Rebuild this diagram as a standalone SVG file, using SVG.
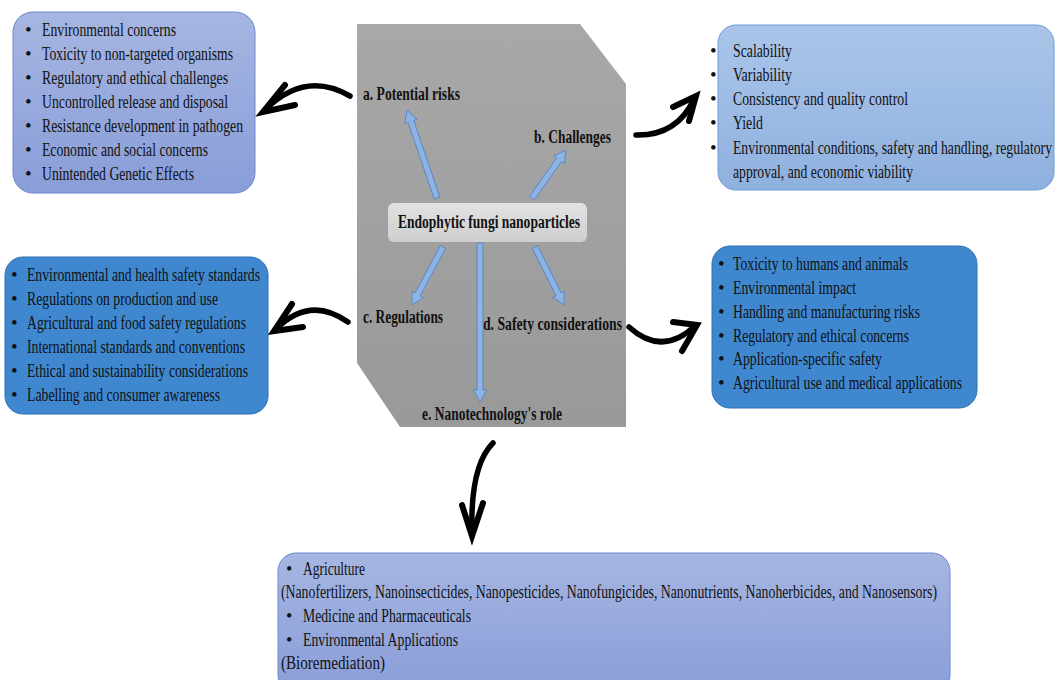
<svg xmlns="http://www.w3.org/2000/svg" width="1055" height="680" viewBox="0 0 1055 680">
<defs>
<linearGradient id="gGray" x1="0" y1="0" x2="0" y2="1"><stop offset="0" stop-color="#a8a8a8"/><stop offset="1" stop-color="#999999"/></linearGradient>
<linearGradient id="gLav" x1="0" y1="0" x2="0" y2="1"><stop offset="0" stop-color="#a6b6e2"/><stop offset="1" stop-color="#899dd8"/></linearGradient>
<linearGradient id="gSky" x1="0" y1="0" x2="0" y2="1"><stop offset="0" stop-color="#abc5e9"/><stop offset="1" stop-color="#8fb1df"/></linearGradient>
<linearGradient id="gCenter" x1="0" y1="0" x2="0" y2="1"><stop offset="0" stop-color="#e2e2e2"/><stop offset="1" stop-color="#cfcfcf"/></linearGradient>
<style>
.t{font-family:"Liberation Serif","Times New Roman",serif;font-size:19px;fill:#111}
.tb{font-family:"Liberation Serif","Times New Roman",serif;font-size:18px;font-weight:bold;fill:#111}
.ts{font-family:"Liberation Serif","Times New Roman",serif;font-size:18px;fill:#111}
.blk{fill:none;stroke:#000;stroke-width:5.5;stroke-linecap:round}
.head{fill:none;stroke:#000;stroke-width:6;stroke-linecap:round;stroke-linejoin:miter}
.ba{fill:#8db3e2;stroke:#5b87c5;stroke-width:1}
</style>
</defs>
<rect width="1055" height="680" fill="#ffffff"/>

<g id="panel">
<polygon points="357,24 580,24 626,84 626,427 400,427 357,363" fill="url(#gGray)"/>
</g>

<g id="center">
<rect x="388" y="203" width="199" height="39" rx="6" fill="url(#gCenter)"/>
<text class="tb" x="398" y="228" textLength="182" lengthAdjust="spacingAndGlyphs">Endophytic fungi nanoparticles</text>
</g>

<g id="label-a"><text class="tb" x="363" y="100" textLength="97" lengthAdjust="spacingAndGlyphs">a. Potential risks</text></g>
<g id="label-b"><text class="tb" x="534" y="143" textLength="77" lengthAdjust="spacingAndGlyphs">b. Challenges</text></g>
<g id="label-c"><text class="tb" x="363" y="323" textLength="80" lengthAdjust="spacingAndGlyphs">c. Regulations</text></g>
<g id="label-d"><text class="tb" x="483" y="330" textLength="139" lengthAdjust="spacingAndGlyphs">d. Safety considerations</text></g>
<g id="label-e"><text class="tb" x="422" y="420" textLength="140" lengthAdjust="spacingAndGlyphs">e. Nanotechnology's role</text></g>

<g id="box-risks">
<rect x="13" y="12" width="242" height="181" rx="20" fill="url(#gLav)" stroke="#6f89d0" stroke-width="1"/>
<text class="t" x="25" y="36">•</text><text class="t" x="42" y="36" textLength="134" lengthAdjust="spacingAndGlyphs">Environmental concerns</text>
<text class="t" x="25" y="60">•</text><text class="t" x="42" y="60" textLength="191" lengthAdjust="spacingAndGlyphs">Toxicity to non-targeted organisms</text>
<text class="t" x="25" y="84">•</text><text class="t" x="42" y="84" textLength="186" lengthAdjust="spacingAndGlyphs">Regulatory and ethical challenges</text>
<text class="t" x="25" y="108">•</text><text class="t" x="42" y="108" textLength="186" lengthAdjust="spacingAndGlyphs">Uncontrolled release and disposal</text>
<text class="t" x="25" y="132">•</text><text class="t" x="42" y="132" textLength="201" lengthAdjust="spacingAndGlyphs">Resistance development in pathogen</text>
<text class="t" x="25" y="156">•</text><text class="t" x="42" y="156" textLength="166" lengthAdjust="spacingAndGlyphs">Economic and social concerns</text>
<text class="t" x="25" y="180">•</text><text class="t" x="42" y="180" textLength="152" lengthAdjust="spacingAndGlyphs">Unintended Genetic Effects</text>
</g>

<g id="box-challenges">
<rect x="718" y="25" width="336" height="165" rx="18" fill="url(#gSky)" stroke="#6b9dd6" stroke-width="1"/>
<text class="t" x="710" y="57">•</text><text class="t" x="733" y="57" textLength="59" lengthAdjust="spacingAndGlyphs">Scalability</text>
<text class="t" x="710" y="81">•</text><text class="t" x="733" y="81" textLength="59" lengthAdjust="spacingAndGlyphs">Variability</text>
<text class="t" x="710" y="105">•</text><text class="t" x="733" y="105" textLength="175" lengthAdjust="spacingAndGlyphs">Consistency and quality control</text>
<text class="t" x="710" y="129">•</text><text class="t" x="733" y="129" textLength="30" lengthAdjust="spacingAndGlyphs">Yield</text>
<text class="t" x="710" y="154">•</text><text class="t" x="733" y="154" textLength="319" lengthAdjust="spacingAndGlyphs">Environmental conditions, safety and handling, regulatory</text>
<text class="t" x="733" y="178" textLength="180" lengthAdjust="spacingAndGlyphs">approval, and economic viability</text>
</g>

<g id="box-regulations">
<rect x="5" y="257" width="263" height="157" rx="18" fill="#3f88d0" stroke="#2f6fb3" stroke-width="1"/>
<text class="t" x="11" y="281">•</text><text class="t" x="27" y="281" textLength="233" lengthAdjust="spacingAndGlyphs">Environmental and health safety standards</text>
<text class="t" x="11" y="305">•</text><text class="t" x="27" y="305" textLength="191" lengthAdjust="spacingAndGlyphs">Regulations on production and use</text>
<text class="t" x="11" y="329">•</text><text class="t" x="27" y="329" textLength="219" lengthAdjust="spacingAndGlyphs">Agricultural and food safety regulations</text>
<text class="t" x="11" y="353">•</text><text class="t" x="27" y="353" textLength="218" lengthAdjust="spacingAndGlyphs">International standards and conventions</text>
<text class="t" x="11" y="377">•</text><text class="t" x="27" y="377" textLength="221" lengthAdjust="spacingAndGlyphs">Ethical and sustainability considerations</text>
<text class="t" x="11" y="401">•</text><text class="t" x="27" y="401" textLength="193" lengthAdjust="spacingAndGlyphs">Labelling and consumer awareness</text>
</g>

<g id="box-safety">
<rect x="712" y="246" width="265" height="162" rx="18" fill="#3f88d0" stroke="#2f6fb3" stroke-width="1"/>
<text class="t" x="718" y="270">•</text><text class="t" x="733" y="270" textLength="175" lengthAdjust="spacingAndGlyphs">Toxicity to humans and animals</text>
<text class="t" x="718" y="294">•</text><text class="t" x="733" y="294" textLength="123" lengthAdjust="spacingAndGlyphs">Environmental impact</text>
<text class="t" x="718" y="318">•</text><text class="t" x="733" y="318" textLength="187" lengthAdjust="spacingAndGlyphs">Handling and manufacturing risks</text>
<text class="t" x="718" y="342">•</text><text class="t" x="733" y="342" textLength="176" lengthAdjust="spacingAndGlyphs">Regulatory and ethical concerns</text>
<text class="t" x="718" y="365">•</text><text class="t" x="733" y="365" textLength="149" lengthAdjust="spacingAndGlyphs">Application-specific safety</text>
<text class="t" x="718" y="389">•</text><text class="t" x="733" y="389" textLength="229" lengthAdjust="spacingAndGlyphs">Agricultural use and medical applications</text>
</g>

<g id="box-role">
<rect x="278" y="553" width="672" height="140" rx="18" fill="url(#gLav)" stroke="#6f89d0" stroke-width="1"/>
<text class="ts" x="286" y="575">•</text><text class="ts" x="303" y="575" textLength="62" lengthAdjust="spacingAndGlyphs">Agriculture</text>
<text class="ts" x="281" y="598" textLength="656" lengthAdjust="spacingAndGlyphs">(Nanofertilizers, Nanoinsecticides, Nanopesticides, Nanofungicides, Nanonutrients, Nanoherbicides, and Nanosensors)</text>
<text class="ts" x="286" y="622">•</text><text class="ts" x="303" y="622" textLength="168" lengthAdjust="spacingAndGlyphs">Medicine and Pharmaceuticals</text>
<text class="ts" x="286" y="646">•</text><text class="ts" x="303" y="646" textLength="155" lengthAdjust="spacingAndGlyphs">Environmental Applications</text>
<text class="ts" x="281" y="669" textLength="104" lengthAdjust="spacingAndGlyphs">(Bioremediation)</text>
</g>

<g id="connectors">
<polygon class="ba" points="439.84,197.03 413.71,120.39 417.02,119.26 407,110 404.72,123.46 408.03,122.33 434.16,198.97"/>
<polygon class="ba" points="534.45,199.73 561.51,161.52 564.36,163.55 566,150 553.76,156.03 556.61,158.06 529.55,196.27"/>
<polygon class="ba" points="445.65,248.41 420.31,295.83 423.39,297.48 412,305 411.93,291.36 415.01,293.01 440.35,245.59"/>
<polygon class="ba" points="537.68,245.66 561.31,292.93 564.44,291.36 564,305 552.82,297.18 555.95,295.61 532.32,248.34"/>
<polygon class="ba" points="483,243 483,390 486.5,390 480,402 473.5,390 477,390 477,243"/>

<path class="blk" d="M350,96 Q305,70 265,110"/>
<polyline class="head" points="285,85 263,112 295,105"/>

<path class="blk" d="M636,135 Q677,136 694,99"/>
<polyline class="head" points="673,107 696,96 689,121"/>

<path class="blk" d="M348,322 Q310,295 276,329"/>
<polyline class="head" points="292,304 274,331 303,327"/>

<path class="blk" d="M629,327 Q662,357 695,326"/>
<polyline class="head" points="673,322 697,325 682,351"/>

<path class="blk" d="M493,443 Q470,466 472,533"/>
<polyline class="head" points="462,505 472,536 483,503"/>
</g>
</svg>
